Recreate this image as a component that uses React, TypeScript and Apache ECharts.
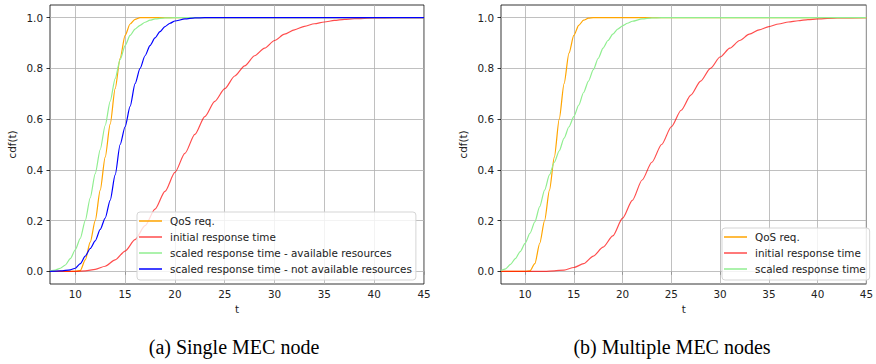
import React, { useEffect, useRef } from "react";
import * as echarts from "echarts";

// ---- tick labels ----
const xTicks = [10, 15, 20, 25, 30, 35, 40, 45];
const yTicks = [0, 0.2, 0.4, 0.6, 0.8, 1.0];

// ---- (a) Single MEC node ----
const qosA_t = [7.46, 10, 10.5, 11, 11.5, 12, 12.5, 13, 13.5, 14, 14.5, 15, 15.5, 16, 16.5, 45];
const qosA_v = [0, 0, 0.003, 0.045, 0.115, 0.2, 0.32, 0.45, 0.58, 0.72, 0.84, 0.93, 0.975, 0.993, 1, 1];

const initA_t = [7.46, 10, 11, 12, 13, 14, 15, 16, 17, 18, 19, 20, 21, 22, 23, 24, 25, 26, 27, 28, 29, 30, 31, 32, 33, 34, 35, 36, 37, 38, 40, 42, 45];
const initA_v = [0, 0, 0.002, 0.008, 0.02, 0.045, 0.08, 0.125, 0.18, 0.245, 0.315, 0.39, 0.465, 0.54, 0.61, 0.67, 0.72, 0.77, 0.81, 0.85, 0.88, 0.91, 0.935, 0.952, 0.966, 0.976, 0.983, 0.989, 0.993, 0.996, 0.999, 1, 1];

const availA_t = [7.46, 8, 8.5, 9, 9.5, 10, 10.5, 11, 11.5, 12, 12.5, 13, 13.5, 14, 14.5, 15, 15.5, 16, 16.5, 17, 17.5, 18, 19, 20, 45];
const availA_v = [0.002, 0.005, 0.012, 0.025, 0.05, 0.085, 0.13, 0.2, 0.29, 0.385, 0.48, 0.575, 0.67, 0.76, 0.835, 0.89, 0.93, 0.955, 0.97, 0.982, 0.99, 0.995, 0.999, 1, 1];

const notAvailA_t = [7.46, 8.5, 9.5, 10, 10.5, 11, 11.5, 12, 12.5, 13, 13.5, 14, 14.5, 15, 15.5, 16, 16.5, 17, 17.5, 18, 18.5, 19, 19.5, 20, 21, 22, 23, 45];
const notAvailA_v = [0, 0.002, 0.006, 0.012, 0.03, 0.06, 0.09, 0.12, 0.165, 0.21, 0.28, 0.38, 0.5, 0.57, 0.65, 0.74, 0.8, 0.85, 0.89, 0.92, 0.945, 0.965, 0.978, 0.987, 0.995, 0.999, 1, 1];

// ---- (b) Multiple MEC nodes ----
const qosB_t = [7.53, 10, 10.5, 11, 11.5, 12, 12.5, 13, 13.5, 14, 14.5, 15, 15.5, 16, 16.5, 17, 45];
const qosB_v = [0, 0, 0.002, 0.03, 0.11, 0.2, 0.32, 0.45, 0.6, 0.74, 0.86, 0.93, 0.97, 0.99, 0.998, 1, 1];

const initB_t = [7.53, 12, 13, 14, 15, 16, 17, 18, 19, 20, 21, 22, 23, 24, 25, 26, 27, 28, 29, 30, 31, 32, 33, 34, 35, 36, 37, 38, 39, 40, 42, 45];
const initB_v = [0, 0, 0.002, 0.005, 0.015, 0.03, 0.06, 0.095, 0.14, 0.21, 0.28, 0.36, 0.43, 0.5, 0.57, 0.635, 0.695, 0.75, 0.8, 0.845, 0.88, 0.91, 0.935, 0.952, 0.965, 0.975, 0.983, 0.988, 0.992, 0.995, 0.999, 1];

const scaledB_t = [7.53, 8, 8.5, 9, 9.5, 10, 10.5, 11, 11.5, 12, 12.5, 13, 13.5, 14, 14.5, 15, 15.5, 16, 16.5, 17, 17.5, 18, 18.5, 19, 19.5, 20, 20.5, 21, 22, 23, 24, 45];
const scaledB_v = [0.003, 0.01, 0.027, 0.05, 0.078, 0.11, 0.15, 0.195, 0.255, 0.32, 0.38, 0.43, 0.475, 0.525, 0.57, 0.61, 0.655, 0.705, 0.75, 0.795, 0.84, 0.88, 0.91, 0.935, 0.955, 0.968, 0.978, 0.986, 0.995, 0.999, 1, 1];

const NAMES = {
  qos: "QoS req.",
  init: "initial response time",
  avail: "scaled response time - available resources",
  notAvail: "scaled response time - not available resources",
  scaled: "scaled response time",
};

const COLORS = {
  qos: "#FFA500",
  init: "rgba(255,0,0,0.7)",
  green: "#90EE90",
  blue: "#0000FF",
};

const FONT = "DejaVu Sans";
const TXT = "#222";

const zip = (t: number[], v: number[]) => t.map((x, i) => [x, v[i]]);

function lineSeries(name: string, color: string, t: number[], v: number[], idx: number) {
  return {
    type: "line",
    name,
    xAxisIndex: idx,
    yAxisIndex: idx,
    data: zip(t, v),
    showSymbol: false,
    symbol: "none",
    smooth: 0.25,
    smoothMonotone: "x",
    color,
    lineStyle: { color, width: 1.2 },
    z: 3,
  };
}

function gridSeries(idx: number, xMax: number) {
  return {
    type: "line",
    name: "__grid" + idx,
    xAxisIndex: idx,
    yAxisIndex: idx,
    data: [[xMax, 1]],
    showSymbol: false,
    symbol: "none",
    lineStyle: { opacity: 0 },
    silent: true,
    z: 1,
    markLine: {
      z: 1,
      silent: true,
      symbol: "none",
      animation: false,
      label: { show: false },
      lineStyle: { color: "#b0b0b0", width: 0.8, type: "solid" },
      emphasis: { disabled: true },
      data: [
        ...xTicks.map((x) => ({ xAxis: x })),
        ...yTicks.map((y) => ({ yAxis: y })),
      ],
    },
  };
}

function xAxis(idx: number, min: number) {
  return {
    type: "value",
    gridIndex: idx,
    min,
    max: 45,
    name: "t",
    nameLocation: "middle",
    nameGap: 20,
    nameTextStyle: { fontFamily: FONT, fontSize: 10.4, color: TXT },
    axisLine: { show: false },
    axisTick: { show: true, customValues: xTicks, length: 3.5, lineStyle: { color: "#000", width: 0.8 } },
    axisLabel: {
      customValues: xTicks,
      margin: 5,
      fontFamily: FONT,
      fontSize: 10.4,
      color: TXT,
      formatter: (v: number) => String(v),
    },
    splitLine: { show: false },
  };
}

function yAxis(idx: number) {
  return {
    type: "value",
    gridIndex: idx,
    min: -0.05,
    max: 1.05,
    name: "cdf(t)",
    nameLocation: "middle",
    nameGap: 33,
    nameTextStyle: { fontFamily: FONT, fontSize: 10.4, color: TXT },
    axisLine: { show: false },
    axisTick: { show: true, customValues: yTicks, length: 3.5, lineStyle: { color: "#000", width: 0.8 } },
    axisLabel: {
      customValues: yTicks,
      margin: 7,
      fontFamily: FONT,
      fontSize: 10.4,
      color: TXT,
      formatter: (v: number) => v.toFixed(1),
    },
    splitLine: { show: false },
  };
}

function legend(left: number, top: number, data: string[]) {
  return {
    z: 10,
    left,
    top,
    orient: "vertical",
    data,
    icon: "rect",
    itemWidth: 23,
    itemHeight: 1.5,
    itemGap: 4,
    padding: [3, 4, 5, 2],
    backgroundColor: "rgba(255,255,255,0.8)",
    borderColor: "#d5d5d5",
    borderWidth: 1,
    borderRadius: 3,
    selectedMode: false,
    textStyle: { fontFamily: FONT, fontSize: 10.4, color: TXT, lineHeight: 12, padding: [0, 0, 0, 3] },
  };
}

export default function App() {
  const ref = useRef<HTMLDivElement>(null);
  useEffect(() => {
    if (!ref.current) return;
    const chart = echarts.init(ref.current, undefined, { renderer: "svg" });
    chart.setOption({
      animation: false,
      backgroundColor: "#fff",
      grid: [
        { left: 50, top: 5, width: 374, height: 279, show: true, borderColor: "#000", borderWidth: 0.8, backgroundColor: "transparent" },
        { left: 501, top: 5, width: 374, height: 279, show: true, borderColor: "#000", borderWidth: 0.8, backgroundColor: "transparent" },
      ],
      xAxis: [xAxis(0, 7.46), xAxis(1, 7.53)],
      yAxis: [yAxis(0), yAxis(1)],
      legend: [
        legend(137, 212, [NAMES.qos, NAMES.init, NAMES.avail, NAMES.notAvail]),
        legend(722, 228, [NAMES.qos, NAMES.init, NAMES.scaled]),
      ],
      series: [
        gridSeries(0, 45),
        gridSeries(1, 45),
        lineSeries(NAMES.qos, COLORS.qos, qosA_t, qosA_v, 0),
        lineSeries(NAMES.init, COLORS.init, initA_t, initA_v, 0),
        lineSeries(NAMES.avail, COLORS.green, availA_t, availA_v, 0),
        lineSeries(NAMES.notAvail, COLORS.blue, notAvailA_t, notAvailA_v, 0),
        lineSeries(NAMES.qos, COLORS.qos, qosB_t, qosB_v, 1),
        lineSeries(NAMES.init, COLORS.init, initB_t, initB_v, 1),
        lineSeries(NAMES.scaled, COLORS.green, scaledB_t, scaledB_v, 1),
      ],
      graphic: [
        {
          type: "text",
          x: 234,
          y: 347,
          style: { text: "(a) Single MEC node", fontFamily: "Liberation Serif", fontSize: 20, fill: "#000", align: "center", verticalAlign: "middle" },
        },
        {
          type: "text",
          x: 672,
          y: 347,
          style: { text: "(b) Multiple MEC nodes", fontFamily: "Liberation Serif", fontSize: 20, fill: "#000", align: "center", verticalAlign: "middle" },
        },
      ],
    });
    return () => chart.dispose();
  }, []);
  return (
    <div
      ref={ref}
      style={{ position: "fixed", left: 0, top: 0, width: 876, height: 364, background: "#fff" }}
    />
  );
}
